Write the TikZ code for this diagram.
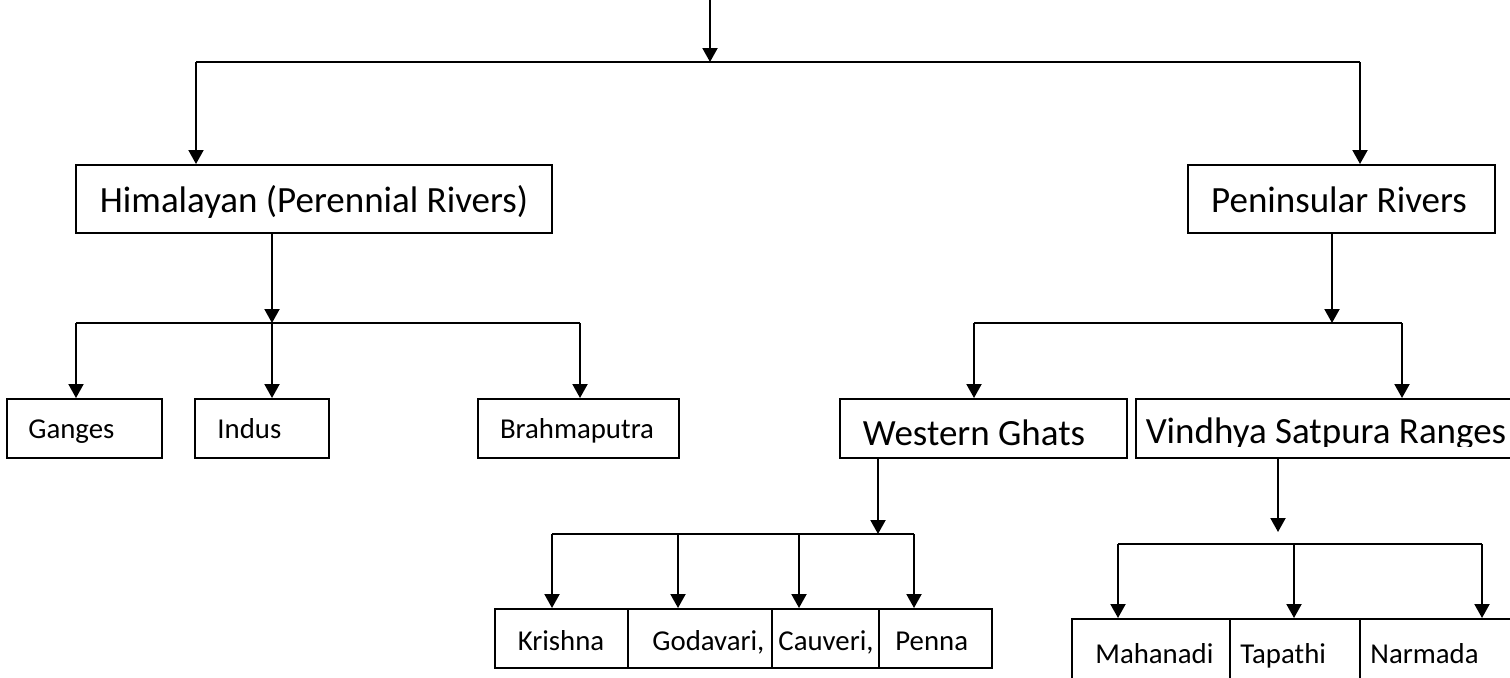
\documentclass[tikz,border=0pt]{standalone}
\usepackage{fontspec}
\setmainfont{Carlito}
\usetikzlibrary{arrows.meta}
\begin{document}
\begin{tikzpicture}[x=0.5pt,y=-0.5pt,
  box/.style={draw, line width=1pt, inner sep=0pt},
  big/.style={font=\fontsize{18.5}{22}\selectfont, inner sep=0pt},
  small/.style={font=\fontsize{14.4}{17}\selectfont, inner sep=0pt},
  arr/.style={line width=1pt, -{Triangle[length=7pt,width=7.5pt]}},
  ln/.style={line width=1pt}]
\clip (0,0) rectangle (1510,677);
\fill[white] (0,0) rectangle (1510,677);
% boxes
\node[box, minimum width=238pt, minimum height=34pt] (him) at (314,199) {};
\node[box, minimum width=153.5pt, minimum height=34pt] (pen) at (1341.5,199) {};
\node[box, minimum width=77.5pt, minimum height=29.5pt] (ganges) at (84.5,428.5) {};
\node[box, minimum width=67pt, minimum height=29.5pt] (indus) at (262,428.5) {};
\node[box, minimum width=100.5pt, minimum height=29.5pt] (brahma) at (578.5,428.5) {};
\node[box, minimum width=143.5pt, minimum height=29.5pt] (wg) at (983.5,428.5) {};
\node[box, minimum width=197pt, minimum height=29.5pt] (vsr) at (1333,428.5) {};
\node[box, minimum width=66.5pt, minimum height=29.5pt] (krishna) at (561.5,638.5) {};
\node[box, minimum width=72pt, minimum height=29.5pt] (godavari) at (700,638.5) {};
\node[box, minimum width=53.5pt, minimum height=29.5pt] (cauveri) at (825.5,638.5) {};
\node[box, minimum width=56.5pt, minimum height=29.5pt] (penna) at (935.5,638.5) {};
\node[box, minimum width=79pt, minimum height=35.5pt] (mahanadi) at (1151,654.5) {};
\node[box, minimum width=65pt, minimum height=35.5pt] (tapathi) at (1295,654.5) {};
\node[box, minimum width=85pt, minimum height=35.5pt] (narmada) at (1445,654.5) {};
% texts
\node[big, anchor=base] (him-t) at (314,212) {Himalayan (Perennial Rivers)};
\node[big, anchor=base] (pen-t) at (1339,212) {Peninsular Rivers};
\node[big, anchor=base] (wg-t) at (974,445) {Western Ghats};
\begin{scope}
\clip (1136,399) rectangle (1510,446);
\node[big, anchor=base] (vsr-t) at (1326,443) {Vindhya Satpura Ranges};
\end{scope}
\node[small, anchor=base west] (ganges-t) at (28,438) {Ganges};
\node[small, anchor=base west] (indus-t) at (217,438) {Indus};
\node[small, anchor=base] (brahma-t) at (577,438) {Brahmaputra};
\node[small, anchor=base] (krishna-t) at (561,650) {Krishna};
\node[small, anchor=base west] (godavari-t) at (652,650) {Godavari,};
\node[small, anchor=base west] (cauveri-t) at (778,650) {Cauveri,};
\node[small, anchor=base west] (penna-t) at (895,650) {Penna};
\node[small, anchor=base west] (mahanadi-t) at (1095,663) {Mahanadi};
\node[small, anchor=base west] (tapathi-t) at (1240,663) {Tapathi};
\node[small, anchor=base west] (narmada-t) at (1370,663) {Narmada};
% level 0
\coordinate (top) at (710,0);
\coordinate (j0) at (710,62);
\coordinate (hL) at (196,62);
\coordinate (pR) at (1360,62);
\draw[arr] (top) -- (j0);
\draw[ln] (hL) -- (pR);
\draw[arr] (hL) -- (hL |- him.north);
\draw[arr] (pR) -- (pR |- pen.north);
% himalayan branch
\coordinate (h1) at (272,323);
\coordinate (hA) at (76,323);
\coordinate (hC) at (580,323);
\draw[arr] (h1 |- him.south) -- (h1);
\draw[ln] (hA) -- (hC);
\draw[arr] (hA) -- (hA |- ganges.north);
\draw[arr] (h1) -- (h1 |- indus.north);
\draw[arr] (hC) -- (hC |- brahma.north);
% peninsular branch
\coordinate (p1) at (1332,323);
\coordinate (pA) at (974,323);
\coordinate (pB) at (1402,323);
\draw[arr] (p1 |- pen.south) -- (p1);
\draw[ln] (pA) -- (pB);
\draw[arr] (pA) -- (pA |- wg.north);
\draw[arr] (pB) -- (pB |- vsr.north);
% western ghats branch
\coordinate (w1) at (878,534);
\coordinate (wA) at (552,534);
\coordinate (wB) at (678,534);
\coordinate (wC) at (799,534);
\coordinate (wD) at (914,534);
\draw[arr] (w1 |- wg.south) -- (w1);
\draw[ln] (wA) -- (wD);
\draw[arr] (wA) -- (wA |- krishna.north);
\draw[arr] (wB) -- (wB |- godavari.north);
\draw[arr] (wC) -- (wC |- cauveri.north);
\draw[arr] (wD) -- (wD |- penna.north);
% vindhya branch
\coordinate (v1) at (1278,532);
\coordinate (vA) at (1118,544);
\coordinate (vB) at (1294,544);
\coordinate (vC) at (1482,544);
\draw[arr] (v1 |- vsr.south) -- (v1);
\draw[ln] (vA) -- (vC);
\draw[arr] (vA) -- (vA |- mahanadi.north);
\draw[arr] (vB) -- (vB |- tapathi.north);
\draw[arr] (vC) -- (vC |- narmada.north);
\end{tikzpicture}
\end{document}
